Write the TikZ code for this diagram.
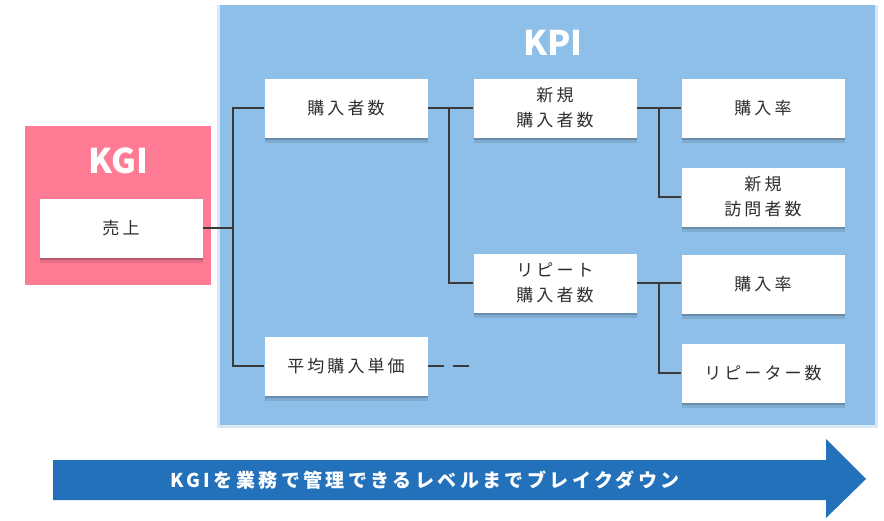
\documentclass[tikz,border=0pt]{standalone}
\usepackage{fontspec}
\setmainfont{Noto Sans CJK JP}
\newfontfamily\boxfont[LetterSpace=18]{Noto Sans CJK JP}
\newfontfamily\arrowfont[LetterSpace=18]{Noto Sans CJK JP}
\usetikzlibrary{shadows}

\definecolor{kpiblue}{HTML}{8EBFE9}
\definecolor{kgipink}{HTML}{FF7B93}
\definecolor{arrowblue}{HTML}{2271BA}
\definecolor{boxtext}{HTML}{2E2E2E}
\definecolor{linegray}{HTML}{3A3A3A}

\tikzset{
  item/.style={fill=white, minimum width=163pt, minimum height=59pt, inner sep=0pt,
    align=center, text=boxtext, font=\boxfont\fontsize{17pt}{25pt}\selectfont,
    drop shadow={shadow xshift=0pt, shadow yshift=-5pt, opacity=.1, fill=black},
    drop shadow={shadow xshift=0pt, shadow yshift=-2.5pt, opacity=.18, fill=black}},
  head/.style={text=white, font=\bfseries\fontsize{34pt}{34pt}\selectfont},
  link/.style={draw=linegray, line width=2.5pt}
}

\begin{document}
\begin{tikzpicture}[x=1pt,y=-1pt]
  \useasboundingbox (0,0) rectangle (884,520);

  % panels
  \fill[kpiblue!35] (217,5) rectangle (878,428);
  \fill[kpiblue] (220,5) rectangle (875,425);
  \fill[kgipink] (25,126) rectangle (211,285);
  \node[head] (kgi) at (118,161) {KGI};
  \node[head] (kpi) at (553,43) {KPI};

  % boxes
  \node[item] (uriage) at (121,228) {売上};
  \node[item] (kounyu) at (346,108) {購入者数};
  \node[item] (heikin) at (346,366) {平均購入単価};
  \node[item] (shinki) at (555,108) {新規\\購入者数};
  \node[item] (repeat) at (555,283) {リピート\\購入者数};
  \node[item] (ritsuA) at (763,108) {購入率};
  \node[item] (houmon) at (763,197) {新規\\訪問者数};
  \node[item] (ritsuB) at (763,284) {購入率};
  \node[item] (repeater) at (763,373) {リピーター数};

  % joints
  \coordinate (t1) at (233,228);
  \coordinate (t2) at (449,200);
  \coordinate (t3) at (659,200);
  \coordinate (more) at (470,366);

  % connectors
  \draw[link] (uriage.east) -- (t1);
  \draw[link] (kounyu.west) -| (t1) |- (heikin.west);
  \draw[link] (kounyu.east) -- (shinki.west);
  \draw[link] (kounyu.east -| t2) |- (repeat.west);
  \draw[link] (shinki.east) -- (ritsuA.west);
  \draw[link] (shinki.east -| t3) |- (houmon.west);
  \draw[link] (repeat.east) -- (ritsuB.west |- repeat.east);
  \draw[link] (repeat.east -| t3) |- (repeater.west);
  \draw[link, dash pattern=on 16pt off 9pt] (heikin.east) -- (more);

  % breakdown arrow
  \fill[arrowblue] (53,460) -- (826,460) -- (826,439) -- (866,479) -- (826,518)
    -- (826,500) -- (53,500) -- cycle;
  \node[text=white, font=\arrowfont\bfseries\fontsize{19pt}{19pt}\selectfont] (brk) at (425,480)
    {KGIを業務で管理できるレベルまでブレイクダウン};
\end{tikzpicture}
\end{document}
